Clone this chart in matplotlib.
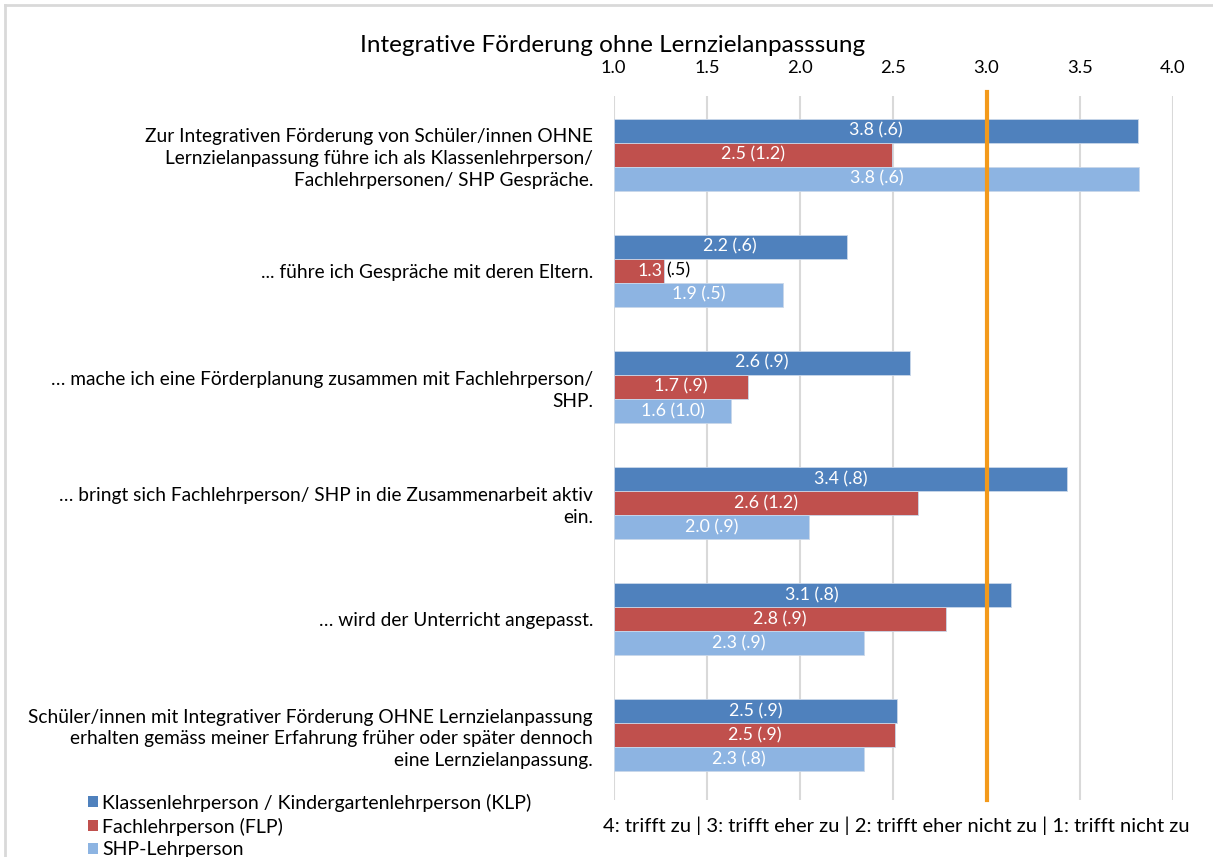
import matplotlib.pyplot as plt
import numpy as np
from matplotlib.patches import Patch
from matplotlib.lines import Line2D

plt.rcParams['font.family'] = ['Lato', 'DejaVu Sans']

categories = [
    "Zur Integrativen Förderung von Schüler/innen OHNE\nLernzielanpassung führe ich als Klassenlehrperson/\nFachlehrpersonen/ SHP Gespräche.",
    "... führe ich Gespräche mit deren Eltern.",
    "… mache ich eine Förderplanung zusammen mit Fachlehrperson/\nSHP.",
    "… bringt sich Fachlehrperson/ SHP in die Zusammenarbeit aktiv\nein.",
    "… wird der Unterricht angepasst.",
    "Schüler/innen mit Integrativer Förderung OHNE Lernzielanpassung\nerhalten gemäss meiner Erfahrung früher oder später dennoch\neine Lernzielanpassung.",
]
series_names = ["Klassenlehrperson / Kindergartenlehrperson (KLP)", "Fachlehrperson (FLP)", "SHP-Lehrperson"]
klp_mean = [3.81, 2.25, 2.59, 3.43, 3.13, 2.52]
flp_mean = [2.49, 1.27, 1.72, 2.63, 2.78, 2.51]
shp_mean = [3.82, 1.91, 1.63, 2.05, 2.34, 2.34]
klp_sd = [".6", ".6", ".9", ".8", ".8", ".9"]
flp_sd = ["1.2", ".5", ".9", "1.2", ".9", ".9"]
shp_sd = [".6", ".5", "1.0", ".9", ".9", ".8"]
ticks = [1.0, 1.5, 2.0, 2.5, 3.0, 3.5, 4.0]
ref_value = 3.0

colors = ["#4F81BD", "#C0504D", "#8DB4E2"]

fig = plt.figure(figsize=(12.13, 8.57), dpi=100)
ax = fig.add_axes([0.506, 0.0665, 0.461, 0.822])

y = np.arange(len(categories))
h = 0.207
means = [klp_mean, flp_mean, shp_mean]
sds = [klp_sd, flp_sd, shp_sd]
for k in range(3):
    pos = y + (k - 1) * h
    ax.barh(pos, np.array(means[k]) - 1, left=1, height=h, color=colors[k],
            edgecolor="#c9d7ea", linewidth=0.6, zorder=3, label=series_names[k])
    for i in range(len(categories)):
        v = means[k][i]
        if v - 1 < 0.4:
            ax.text(v - 0.01, pos[i], f"{v:.1f}", color="white", ha="right", va="center", fontsize=12.8, zorder=4)
            ax.text(v + 0.01, pos[i], f"({sds[k][i]})", color="black", ha="left", va="center", fontsize=12.8, zorder=4)
        else:
            ax.text((1 + v) / 2, pos[i], f"{v:.1f} ({sds[k][i]})", color="white", ha="center", va="center",
                    fontsize=12.8, zorder=4)

ax.axvline(ref_value, color="#F39A1B", linewidth=3, zorder=5, ymax=1.005, clip_on=False)

ax.set_xlim(1, 4)
ax.set_ylim(5.56, -0.51)
ax.set_xticks(ticks)
ax.set_xticklabels([f"{t:.1f}" for t in ticks], fontsize=13.2)
ax.xaxis.tick_top()
ax.tick_params(axis="x", length=0, pad=14)
ax.set_yticks(y)
ax.set_yticklabels(categories, fontsize=13.8, linespacing=1.35)
ax.tick_params(axis="y", length=0, pad=15)
ax.grid(axis="x", color="#d9d9d9", linewidth=1.5, zorder=0)
ax.set_axisbelow(True)
for s in ax.spines.values():
    s.set_visible(False)

fig.text(0.505, 0.947, "Integrative Förderung ohne Lernzielanpasssung", ha="center", va="center", fontsize=17.5)

handles = [Patch(facecolor=c, edgecolor="none") for c in colors]
fig.legend(handles, series_names, loc="upper left", bbox_to_anchor=(0.066, 0.083),
           frameon=False, fontsize=14, handlelength=0.5, handleheight=0.5, handletextpad=0.25,
           labelspacing=0.3, borderaxespad=0)

fig.text(0.739, 0.036, "4: trifft zu | 3: trifft eher zu | 2: trifft eher nicht zu | 1: trifft nicht zu",
         ha="center", va="center", fontsize=14.5)

fig.add_artist(Line2D([0.004, 0.004], [0, 0.994], color="#d9d9d9", linewidth=2, transform=fig.transFigure))
fig.add_artist(Line2D([0.004, 1], [0.994, 0.994], color="#d9d9d9", linewidth=2, transform=fig.transFigure))

fig.savefig("out.png", dpi=100)
